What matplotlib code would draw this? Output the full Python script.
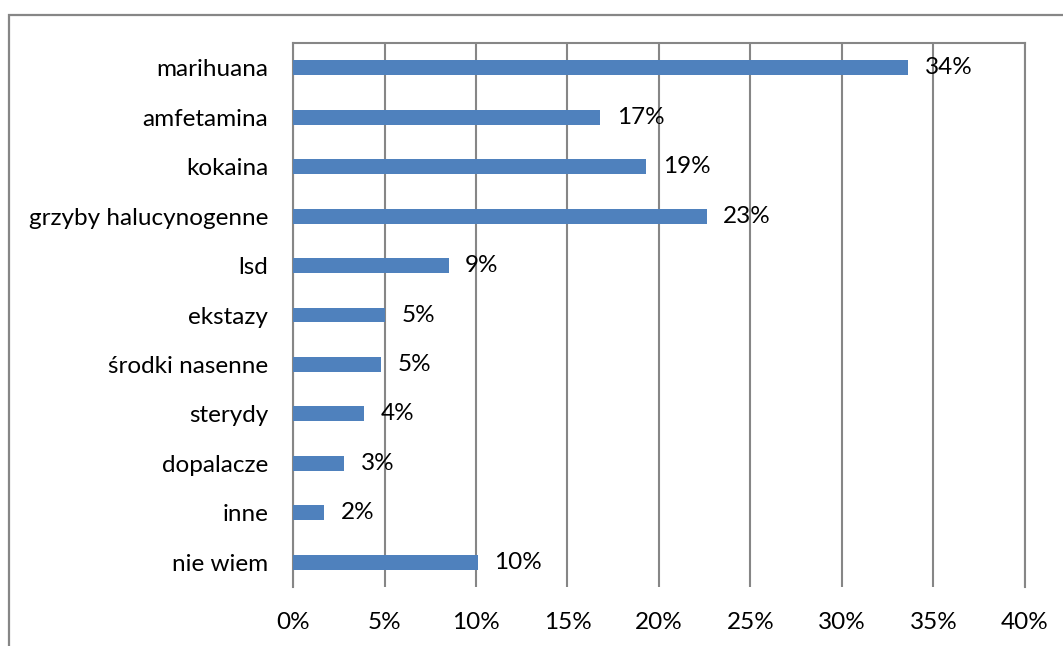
import matplotlib.pyplot as plt
from matplotlib.patches import Rectangle

# data (top to bottom)
categories = ["marihuana", "amfetamina", "kokaina", "grzyby halucynogenne", "lsd",
              "ekstazy", "środki nasenne", "sterydy", "dopalacze", "inne", "nie wiem"]
values = [33.6, 16.8, 19.3, 22.6, 8.5, 5.0, 4.8, 3.9, 2.8, 1.7, 10.1]
labels = ["34%", "17%", "19%", "23%", "9%", "5%", "5%", "4%", "3%", "2%", "10%"]
xticks = [0, 5, 10, 15, 20, 25, 30, 35, 40]

plt.rcParams['font.family'] = ['Lato', 'DejaVu Sans']

W, H = 1063, 646
fig = plt.figure(figsize=(W / 100, H / 100), dpi=100)

# outer chart frame (cut off on the right and bottom)
fig.patches.append(Rectangle((9 / W, -0.1), 1.2, 1 - 15 / H + 0.1,
                             transform=fig.transFigure, fill=False,
                             edgecolor="#868686", linewidth=1.6))

ax = fig.add_axes([293 / W, 1 - 587 / H, (1025 - 293) / W, (587 - 43) / H])

y = list(range(len(categories)))
ax.barh(y, values, height=0.3, color="#4F81BD", zorder=3)
for yi, v, lab in zip(y, values, labels):
    ax.annotate(lab, (v, yi), xytext=(12, 0), textcoords="offset points",
                va="center", ha="left", fontsize=17.5, zorder=4)

ax.set_ylim(len(categories) - 0.5, -0.5)
ax.set_xlim(0, 40)
ax.set_yticks(y)
ax.set_yticklabels(categories, fontsize=17.5)
ax.set_xticks(xticks)
ax.set_xticklabels([f"{t}%" for t in xticks], fontsize=17.5)
ax.tick_params(axis="y", length=0, pad=18)
ax.tick_params(axis="x", length=0, pad=18)
ax.grid(axis="x", color="#868686", linewidth=1.5, zorder=0)

for s in ["left", "top", "right"]:
    ax.spines[s].set_color("#868686")
    ax.spines[s].set_linewidth(1.5)
ax.spines["bottom"].set_visible(False)

fig.savefig("out.png", dpi=100)
